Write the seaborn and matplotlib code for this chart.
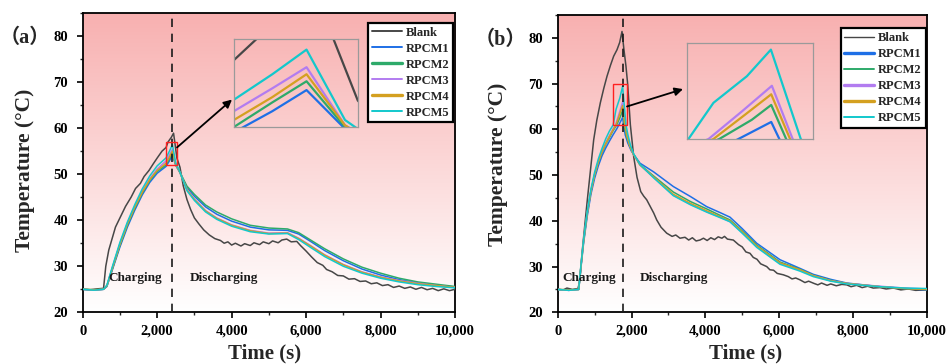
import matplotlib
matplotlib.use("Agg")
import numpy as np
import pandas as pd
import seaborn as sns
import matplotlib.pyplot as plt
from matplotlib.lines import Line2D
from matplotlib.patches import Rectangle
from matplotlib.colors import LinearSegmentedColormap
from matplotlib.ticker import FuncFormatter, MultipleLocator

# ---------------- data ----------------
series_names = ["Blank", "RPCM1", "RPCM2", "RPCM3", "RPCM4", "RPCM5"]
series_colors = ["#474747", "#1E6FE6", "#2EAA6A", "#B27CF0", "#D4A020", "#12C8CC"]

# panel (a)
ta_blank = [0, 200, 400, 560, 620, 700, 880, 1000, 1150, 1300, 1420, 1550, 1650, 1780, 1900, 2000, 2130, 2240, 2293, 2380,
            2440, 2473, 2530, 2613, 2700, 2800, 2900, 3000, 3120, 3250, 3400, 3550, 3700, 3800, 3900, 4000, 4100, 4250, 4350, 4500,
            4600, 4750, 4850, 5000, 5100, 5250, 5350, 5480, 5600, 5750, 5850, 6000, 6150, 6300, 6450, 6550, 6700, 6850, 7000, 7150,
            7300, 7450, 7600, 7750, 7900, 8050, 8200, 8350, 8500, 8650, 8800, 8950, 9100, 9250, 9400, 9550, 9700, 9850, 10000]
Ta_blank = [25.0, 24.9, 25.1, 25.2, 30.0, 33.5, 38.5, 40.5, 43.0, 45.0, 46.9, 48.0, 49.5, 50.8, 52.3, 53.5, 55.0, 55.8, 57.0, 58.0,
            58.9, 57.0, 53.5, 51.5, 47.5, 44.5, 42.3, 40.5, 39.2, 37.9, 36.8, 36.0, 35.6, 35.0, 35.3, 34.6, 35.0, 34.4, 34.9, 34.5,
            35.1, 34.7, 35.3, 34.9, 35.5, 35.1, 35.7, 35.9, 35.3, 35.4, 34.5, 33.3, 32.0, 30.8, 30.2, 29.3, 28.8, 28.0, 27.9, 27.2,
            27.3, 26.7, 26.8, 26.2, 26.4, 25.8, 26.0, 25.4, 25.7, 25.2, 25.5, 25.0, 25.4, 24.9, 25.2, 24.7, 25.1, 24.7, 25.0]
ta_rpcm = [0, 300, 560, 650, 800, 1000, 1200, 1400, 1600, 1800, 2000, 2240, 2330, 2410, 2500, 2600, 2800, 3000, 3300, 3600,
           4000, 4500, 5000, 5500, 5800, 6100, 6500, 7000, 7500, 8000, 8500, 9000, 9500, 10000]
Ta_r1 = [25.0, 24.8, 25.0, 25.6, 29.3, 34.2, 38.5, 42.2, 45.5, 48.2, 50.2, 51.7, 52.9, 54.1, 51.9, 50.5, 47.1, 45.2, 42.9, 41.3,
         39.8, 38.5, 37.9, 37.8, 37.0, 35.5, 33.4, 31.2, 29.4, 28.1, 27.1, 26.4, 25.9, 25.5]
Ta_r2 = [25.0, 24.9, 25.0, 25.7, 29.5, 34.5, 38.9, 42.6, 45.9, 48.6, 50.6, 52.0, 53.4, 54.6, 52.0, 50.6, 47.4, 45.6, 43.3, 41.8,
         40.3, 38.9, 38.3, 38.1, 37.3, 35.8, 33.8, 31.6, 29.8, 28.5, 27.4, 26.6, 26.1, 25.6]
Ta_r3 = [25.0, 24.8, 25.0, 25.8, 29.8, 34.9, 39.3, 43.0, 46.3, 49.0, 51.1, 52.9, 54.2, 55.4, 52.1, 50.6, 46.7, 44.6, 42.1, 40.5,
         39.0, 37.8, 37.2, 37.3, 36.1, 34.6, 32.5, 30.4, 28.8, 27.7, 26.9, 26.3, 25.8, 25.4]
Ta_r4 = [25.0, 24.9, 25.0, 25.8, 29.7, 34.8, 39.2, 42.9, 46.1, 48.8, 50.8, 52.4, 53.7, 55.0, 52.1, 50.6, 46.6, 44.5, 42.0, 40.4,
         38.9, 37.7, 37.1, 37.2, 36.0, 34.5, 32.4, 30.3, 28.7, 27.6, 26.8, 26.2, 25.8, 25.4]
Ta_r5 = [25.0, 24.8, 25.0, 25.9, 30.0, 35.2, 39.6, 43.4, 46.8, 49.6, 51.8, 53.55, 55.0, 56.4, 52.4, 50.7, 46.4, 44.3, 41.8, 40.2,
         38.7, 37.5, 37.0, 37.1, 35.8, 34.2, 32.1, 30.0, 28.5, 27.4, 26.6, 26.0, 25.6, 25.3]

# panel (b)
tb_blank = [0, 150, 250, 400, 550, 600, 659, 794, 975, 1060, 1155, 1250, 1336, 1430, 1517, 1607, 1680, 1743, 1790, 1850,
            1895, 1969, 2060, 2150, 2250, 2331, 2412, 2602, 2683, 2800, 2954, 3100, 3200, 3314, 3450, 3550, 3650, 3750, 3856, 3950,
            4050, 4150, 4250, 4350, 4450, 4520, 4600, 4759, 4900, 5000, 5100, 5211, 5300, 5400, 5500, 5664, 5750, 5850, 5950, 6114,
            6250, 6350, 6450, 6566, 6700, 6800, 6950, 7050, 7150, 7300, 7400, 7550, 7700, 7832, 7950, 8100, 8250, 8400, 8550, 8734,
            8900, 9100, 9300, 9500, 9700, 10000]
Tb_blank = [25.0, 24.9, 25.3, 25.0, 25.2, 27.0, 32.9, 43.9, 57.7, 62.0, 65.8, 69.0, 71.6, 74.0, 76.0, 77.4, 79.0, 81.4, 77.8, 73.8,
            70.0, 61.0, 54.0, 49.5, 46.4, 45.4, 44.6, 41.7, 40.2, 38.6, 37.3, 36.6, 36.9, 36.2, 36.4, 35.8, 36.3, 35.6, 35.8, 36.2,
            35.7, 36.3, 35.9, 36.5, 36.2, 36.6, 36.0, 35.8, 34.8, 34.3, 33.2, 32.9, 32.0, 31.6, 30.6, 30.0, 29.3, 29.2, 28.5, 28.2,
            27.8, 27.3, 27.5, 27.1, 26.5, 26.8, 26.3, 26.0, 26.4, 25.9, 26.2, 25.8, 26.1, 26.0, 25.6, 25.9, 25.4, 25.7, 25.3, 25.4,
            25.1, 25.3, 24.9, 25.1, 24.8, 24.9]
tb_r1 = [0, 300, 570, 620, 700, 800, 900, 1000, 1100, 1200, 1300, 1400, 1500, 1600, 1659, 1760, 1785, 1830, 1900, 2000,
         2230, 2600, 3133, 3600, 4038, 4400, 4669, 5000, 5393, 6024, 6566, 6927, 7400, 7832, 8734, 9400, 10000]
Tb_r1 = [25.0, 24.8, 25.0, 29.0, 35.0, 41.0, 45.8, 49.3, 52.0, 54.2, 55.9, 57.4, 58.8, 60.1, 61.0, 62.6, 61.0, 58.8, 57.0, 55.2,
         52.6, 50.7, 47.5, 45.3, 43.1, 41.8, 40.8, 38.3, 35.1, 31.5, 29.6, 28.3, 27.2, 26.4, 25.6, 25.2, 24.9]
tb_r2 = [0, 300, 570, 620, 700, 800, 900, 1000, 1100, 1200, 1300, 1400, 1500, 1600, 1700, 1760, 1806, 1860, 1950, 2050,
         2230, 2600, 3133, 3600, 4038, 4400, 4669, 5000, 5393, 6024, 6566, 6927, 7400, 7832, 8734, 9400, 10000]
Tb_r2 = [25.0, 24.9, 25.0, 29.2, 35.4, 41.6, 46.4, 50.0, 52.7, 54.9, 56.7, 58.2, 59.7, 61.0, 62.8, 64.2, 61.0, 58.6, 56.4, 54.6,
         52.3, 49.8, 46.3, 44.2, 42.6, 41.2, 40.2, 37.8, 34.7, 31.0, 29.4, 28.1, 27.0, 26.3, 25.6, 25.2, 25.0]
tb_r3 = [0, 300, 570, 620, 700, 800, 900, 1000, 1100, 1200, 1300, 1400, 1500, 1567, 1670, 1762, 1826, 1880, 1950, 2050,
         2230, 2600, 3133, 3600, 4038, 4400, 4669, 5000, 5393, 6024, 6566, 6927, 7400, 7832, 8734, 9400, 10000]
Tb_r3 = [25.0, 24.8, 25.0, 29.3, 35.6, 41.8, 46.6, 50.2, 53.0, 55.2, 57.0, 58.6, 60.1, 61.0, 63.6, 66.0, 61.0, 58.8, 56.6, 54.6,
         52.2, 49.5, 45.6, 43.6, 42.0, 40.8, 39.8, 37.4, 34.4, 30.7, 29.2, 28.0, 26.9, 26.3, 25.7, 25.3, 25.1]
tb_r4 = [0, 300, 570, 620, 700, 800, 900, 1000, 1100, 1200, 1300, 1400, 1500, 1582, 1680, 1760, 1818, 1870, 1950, 2050,
         2230, 2600, 3133, 3600, 4038, 4400, 4669, 5000, 5393, 6024, 6566, 6927, 7400, 7832, 8734, 9400, 10000]
Tb_r4 = [25.0, 24.9, 25.0, 29.3, 35.5, 41.7, 46.5, 50.1, 52.9, 55.1, 56.9, 58.4, 59.9, 61.0, 63.3, 65.2, 61.0, 58.7, 56.5, 54.6,
         52.2, 49.6, 45.8, 43.8, 42.2, 40.9, 40.0, 37.6, 34.5, 30.8, 29.3, 28.0, 26.9, 26.3, 25.6, 25.2, 25.0]
tb_r5 = [0, 300, 570, 620, 700, 800, 900, 1000, 1100, 1200, 1300, 1400, 1505, 1582, 1685, 1759, 1851, 1900, 1970, 2060,
         2230, 2600, 3133, 3600, 4038, 4400, 4669, 5000, 5393, 6024, 6566, 6927, 7400, 7832, 8734, 9400, 10000]
Tb_r5 = [25.0, 24.8, 25.0, 29.5, 35.8, 42.0, 46.9, 50.6, 53.5, 55.8, 57.9, 59.6, 61.0, 64.4, 66.9, 69.4, 61.0, 58.9, 56.6, 54.6,
         52.3, 49.4, 45.5, 43.5, 41.9, 40.7, 39.8, 37.3, 34.2, 30.5, 29.0, 27.8, 26.8, 26.2, 25.6, 25.3, 25.2]

switch_a, switch_b = 2410, 1760          # end of charging
zoom_a_x, zoom_a_y = [2240, 2530], [52, 57]
zoom_b_x, zoom_b_y = [1500, 1890], [61, 70]

x_ticks = [0, 2000, 4000, 6000, 8000, 10000]
y_ticks = [20, 30, 40, 50, 60, 70, 80]


def long_table(pairs):
    rows = []
    for name, (t, T) in zip(series_names, pairs):
        rows.append(pd.DataFrame({"series": name, "t": t, "T": T}))
    return pd.concat(rows, ignore_index=True)


df_a = long_table([(ta_blank, Ta_blank), (ta_rpcm, Ta_r1), (ta_rpcm, Ta_r2),
                   (ta_rpcm, Ta_r3), (ta_rpcm, Ta_r4), (ta_rpcm, Ta_r5)])
df_b = long_table([(tb_blank, Tb_blank), (tb_r1, Tb_r1), (tb_r2, Tb_r2),
                   (tb_r3, Tb_r3), (tb_r4, Tb_r4), (tb_r5, Tb_r5)])

# ---------------- style ----------------
sns.set_theme(style="ticks")
plt.rcParams["font.family"] = ["Liberation Serif", "Noto Sans CJK SC"]
plt.rcParams["font.weight"] = "bold"
plt.rcParams["axes.labelweight"] = "bold"

fig = plt.figure(figsize=(9.49, 3.64), dpi=100)
palette = dict(zip(series_names, series_colors))
grad_cmap = LinearSegmentedColormap.from_list("pinkfade", ["#FFFFFF", "#F8B0B0"])


def draw_panel(rect, df, switch, zx, zy, inset_rect, arrow_from, arrow_to, texts,
               legend_anchor, legend_widths, label, label_pos, ylab_coords, xlab_coords):
    ax = fig.add_axes(rect)
    grad = np.linspace(0, 1, 256).reshape(-1, 1)
    ax.imshow(grad, extent=[0, 1, 0, 1], transform=ax.transAxes, origin="lower",
              aspect="auto", cmap=grad_cmap, zorder=0)
    sns.lineplot(data=df, x="t", y="T", hue="series", hue_order=series_names,
                 palette=palette, estimator=None, sort=False, legend=False,
                 linewidth=1.1, ax=ax, zorder=3)
    ax.axvline(switch, color="#1A1A1A", ls=(0, (5, 4)), lw=1.2, zorder=4)
    ax.set_xlim(0, 10000)
    ax.set_ylim(20, 85)
    ax.set_xticks(x_ticks)
    ax.set_yticks(y_ticks)
    ax.xaxis.set_minor_locator(MultipleLocator(1000))
    ax.yaxis.set_minor_locator(MultipleLocator(5))
    ax.xaxis.set_major_formatter(FuncFormatter(lambda v, p: f"{int(v):,}"))
    ax.tick_params(which="major", direction="out", length=4, width=1.2,
                   labelsize=10.5, colors="black")
    ax.tick_params(axis="y", which="major", pad=6.5)
    ax.tick_params(axis="x", which="major", pad=5)
    ax.tick_params(which="minor", direction="out", length=2.5, width=1.0)
    for lab in ax.get_xticklabels() + ax.get_yticklabels():
        lab.set_fontweight("bold")
    for s in ax.spines.values():
        s.set_color("black")
        s.set_linewidth(1.3)
    ax.set_xlabel("Time (s)", fontsize=15, fontweight="bold")
    ax.set_ylabel("Temperature (°C)", fontsize=15.5, fontweight="bold")
    ax.yaxis.set_label_coords(*ylab_coords)
    ax.xaxis.set_label_coords(*xlab_coords)

    # zoom window indicator
    ax.add_patch(Rectangle((zx[0], zy[0]), zx[1] - zx[0], zy[1] - zy[0],
                           fill=False, edgecolor="#FF2020", lw=1.0, zorder=5))
    ax.annotate("", xy=arrow_to, xytext=arrow_from,
                arrowprops=dict(arrowstyle="-|>", color="black", lw=1.3,
                                mutation_scale=12, shrinkA=0, shrinkB=0), zorder=6)

    # inset
    axins = ax.inset_axes(inset_rect)
    axins.set_facecolor("none")
    sns.lineplot(data=df, x="t", y="T", hue="series", hue_order=series_names,
                 palette=palette, estimator=None, sort=False, legend=False,
                 linewidth=1.6, ax=axins)
    axins.set_xlim(*zx)
    axins.set_ylim(*zy)
    axins.set_xticks([])
    axins.set_yticks([])
    axins.set_xlabel("")
    axins.set_ylabel("")
    for s in axins.spines.values():
        s.set_color("#9A9A9A")
        s.set_linewidth(0.9)

    for (tx, ty, s) in texts:
        ax.text(tx, ty, s, fontsize=9.5, fontweight="bold", color="#1A1A1A",
                ha="left", va="center", zorder=5)

    handles = [Line2D([], [], color=c, lw=w) for c, w in zip(series_colors, legend_widths)]
    leg = ax.legend(handles, series_names, loc="upper right", bbox_to_anchor=legend_anchor,
                    frameon=True, fancybox=False, edgecolor="black", facecolor="white",
                    framealpha=1, handlelength=2.4, labelspacing=0.32,
                    borderpad=0.3, handletextpad=0.3, borderaxespad=0,
                    prop={"weight": "bold", "size": 9})
    leg.get_frame().set_linewidth(1.6)
    leg.set_zorder(10)

    fig.text(label_pos[0], label_pos[1], label, ha="center", va="center",
             fontsize=14.5, fontweight="bold",
             family=["Liberation Serif", "Noto Sans CJK SC"])
    return ax


draw_panel([82.7 / 949, 1 - 312.3 / 364, 372.3 / 949, 299.3 / 364], df_a, switch_a,
           zoom_a_x, zoom_a_y, [0.406, 0.619, 0.333, 0.294],
           (2533, 55.8), (4010, 66.2),
           [(698, 27.5, "Charging"), (2885, 27.5, "Discharging")],
           (0.995, 0.967), [1.4, 1.4, 2.4, 1.4, 2.4, 1.4],
           "（a）", (25 / 949, 1 - 38 / 364), (-0.128, 0.473), (0.489, -0.105))

draw_panel([557.7 / 949, 1 - 312.3 / 364, 369 / 949, 297.3 / 364], df_b, switch_b,
           zoom_b_x, zoom_b_y, [0.35, 0.583, 0.343, 0.322],
           (1878, 65.0), (3396, 68.8),
           [(125, 27.4, "Charging"), (2230, 27.4, "Discharging")],
           (0.997, 0.955), [1.0, 2.4, 1.4, 2.4, 2.4, 1.4],
           "（b）", (500 / 949, 1 - 40 / 364), (-0.135, 0.499), (0.509, -0.105))

fig.savefig("out.png", dpi=100)
